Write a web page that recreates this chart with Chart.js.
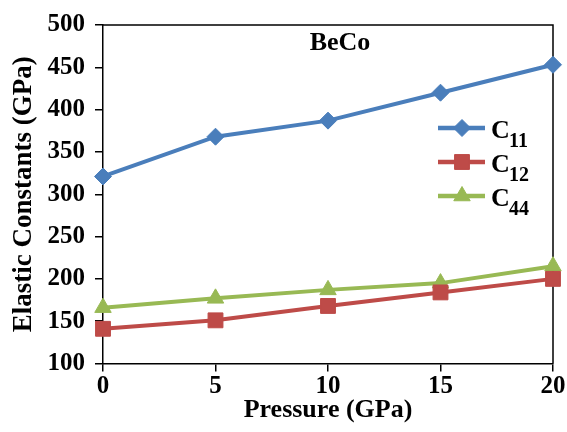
<!DOCTYPE html>
<html>
<head>
<meta charset="utf-8">
<title>BeCo elastic constants</title>
<script src="https://cdn.jsdelivr.net/npm/chart.js"></script>
<style>
  html, body { margin: 0; padding: 0; background: #fff; }
  #wrap { width: 567px; height: 432px; }
</style>
</head>
<body>
<div id="wrap"><canvas id="chart"></canvas></div>
<script>
// values
const pressure = [0, 5, 10, 15, 20];
const c11 = [321, 368, 387, 420, 453];
const c12 = [141, 151, 168, 184, 200];
const c44 = [166, 177, 187, 195, 215];
const yTicks = [100, 150, 200, 250, 300, 350, 400, 450, 500];
const seriesNames = ['11', '12', '44']; // subscripts of C

const FONT = "'Liberation Serif', 'Times New Roman', serif";
const colors = ['#4A7EBB', '#BE4B48', '#98B954'];
const styles = ['rectRot', 'rect', 'triangle'];
const radii = [8.5, 10.5, 9.5];

function toXY(vals) {
  return vals.map((v, i) => ({ x: pressure[i], y: v }));
}

function makeSet(vals, i) {
  return {
    label: 'C' + seriesNames[i],
    data: toXY(vals),
    borderColor: colors[i],
    backgroundColor: colors[i],
    borderWidth: 4,
    pointStyle: styles[i],
    pointRadius: radii[i],
    pointBorderWidth: 1,
    tension: 0,
    clip: false
  };
}

// top and right frame lines
const framePlugin = {
  id: 'frame',
  beforeDatasetsDraw(chart) {
    const { ctx, chartArea: a } = chart;
    ctx.save();
    ctx.strokeStyle = '#000';
    ctx.lineWidth = 1.5;
    ctx.beginPath();
    ctx.moveTo(a.left, a.top);
    ctx.lineTo(a.right, a.top);
    ctx.lineTo(a.right, a.bottom);
    ctx.stroke();
    ctx.restore();
  }
};

// "BeCo" label and legend with subscripts
const labelPlugin = {
  id: 'labels',
  afterDraw(chart) {
    const ctx = chart.ctx;
    ctx.save();
    ctx.fillStyle = '#000';
    ctx.font = 'bold 26px ' + FONT;
    ctx.textAlign = 'center';
    ctx.textBaseline = 'alphabetic';
    ctx.fillText('BeCo', 340, 50);

    const rows = [128, 162, 196];
    chart.data.datasets.forEach((ds, i) => {
      const y = rows[i];
      ctx.strokeStyle = colors[i];
      ctx.lineWidth = 4.5;
      ctx.beginPath();
      ctx.moveTo(438, y);
      ctx.lineTo(485, y);
      ctx.stroke();
      ctx.fillStyle = colors[i];
      ctx.strokeStyle = colors[i];
      ctx.lineWidth = 1;
      Chart.helpers.drawPoint(ctx, { pointStyle: styles[i], radius: radii[i], borderWidth: 1, rotation: 0 }, 462, y);
      ctx.fillStyle = '#000';
      ctx.textAlign = 'left';
      ctx.font = 'bold 26px ' + FONT;
      ctx.fillText('C', 491, y + 10);
      ctx.font = 'bold 20px ' + FONT;
      ctx.fillText(seriesNames[i], 509, y + 19);
    });
    ctx.restore();
  }
};

new Chart(document.getElementById('chart'), {
  type: 'line',
  data: { datasets: [makeSet(c11, 0), makeSet(c12, 1), makeSet(c44, 2)] },
  options: {
    responsive: true,
    maintainAspectRatio: false,
    animation: false,
    layout: { padding: { top: 22, right: 14, left: 0, bottom: 0 } },
    plugins: { legend: { display: false }, tooltip: { enabled: false } },
    scales: {
      x: {
        type: 'linear',
        min: 0, max: 20,
        afterBuildTicks: s => { s.ticks = pressure.map(v => ({ value: v })); },
        afterFit: s => { s.height = 68.5; },
        border: { display: true, color: '#000', width: 1.5 },
        grid: { drawOnChartArea: false, drawTicks: true, tickLength: 8, color: '#000', lineWidth: 1.5 },
        ticks: { color: '#000', padding: 0, font: { family: FONT, size: 25, weight: 'bold' } },
        title: { display: true, text: 'Pressure (GPa)', color: '#000', padding: { top: 0, bottom: 6 },
                 font: { family: FONT, size: 26, weight: 'bold' } }
      },
      y: {
        min: 100, max: 500,
        afterBuildTicks: s => { s.ticks = yTicks.map(v => ({ value: v })); },
        afterFit: s => { s.width = 103; },
        border: { display: true, color: '#000', width: 1.5 },
        grid: { drawOnChartArea: false, drawTicks: true, tickLength: 8, color: '#000', lineWidth: 1.5 },
        ticks: { color: '#000', padding: 10, font: { family: FONT, size: 25, weight: 'bold' } },
        title: { display: true, text: 'Elastic Constants (GPa)', color: '#000', padding: { top: 8, bottom: 0 },
                 font: { family: FONT, size: 27, weight: 'bold' } }
      }
    }
  },
  plugins: [framePlugin, labelPlugin]
});
</script>
</body>
</html>
